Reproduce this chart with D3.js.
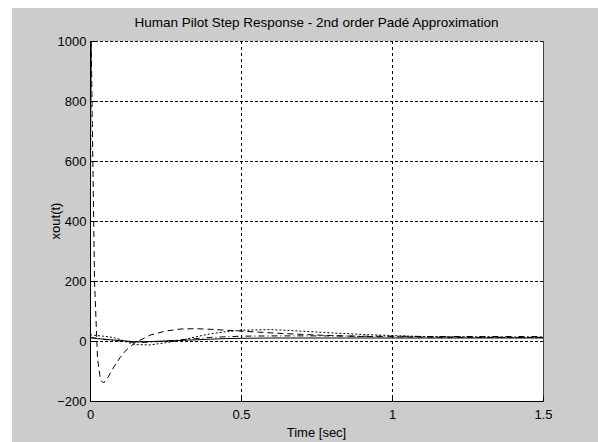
<!DOCTYPE html>
<html><head><meta charset="utf-8">
<script src="https://cdn.jsdelivr.net/npm/d3@7"></script>
<style>html,body{margin:0;padding:0;background:#fff;}svg{display:block;}</style>
</head><body>
<script>
const title = "Human Pilot Step Response - 2nd order Padé Approximation";
const xLabel = "Time [sec]";
const yLabel = "xout(t)";
const xTicks = [0, 0.5, 1, 1.5];
const xTickLabels = ["0", "0.5", "1", "1.5"];
const yTicks = [-200, 0, 200, 400, 600, 800, 1000];
const time =      [0, 0.002, 0.004, 0.008, 0.015, 0.025, 0.035, 0.045, 0.06, 0.08, 0.1, 0.12, 0.15, 0.2, 0.25, 0.3, 0.35, 0.4, 0.45, 0.5, 0.6, 0.7, 0.8, 0.9, 1.0, 1.1, 1.2, 1.3, 1.4, 1.5];
const dashedVals = [0, 600, 1000, 700, 200, -60, -130, -140, -120, -85, -55, -30, -5, 20, 33, 40, 41, 39, 36, 33, 27, 22, 18, 15, 14, 13, 12, 12, 12, 12];
const dottedVals = [20, 20, 20, 20, 19, 18, 17, 16, 14, 11, 5, -3, -12, -13, -6, 2, 14, 24, 31, 36, 38, 33, 27, 22, 18, 15, 14, 13, 12, 12];
const dashDotVals = [12, 12, 12, 11, 10, 9, 8, 6, 4, 2, 0, -2, -5, -4, 0, 4, 8, 12, 14, 16, 17, 17, 17, 16, 16, 15, 15, 15, 15, 15];
const solidVals =  [10, 10, 10, 10, 9, 8, 7, 6, 5, 3, 2, 0, -3, -2, 0, 2, 4, 6, 8, 9, 10, 10, 10, 10, 10, 10, 10, 10, 10, 10];
const seriesNames = ["solid", "dashed", "dotted", "dashdot"];
const seriesValues = [solidVals, dashedVals, dottedVals, dashDotVals];
const seriesDash = [null, "6,4", "2,2", "6,3,1,3"];

const W = 598, H = 442;
const svg = d3.select("body").append("svg").attr("width", W).attr("height", H);
svg.append("rect").attr("x", 12).attr("y", 8).attr("width", W - 12).attr("height", H - 8).attr("fill", "#cccccc");

const L = 90, R = 543, T = 41, B = 401;
const x = d3.scaleLinear().domain([0, 1.5]).range([L, R]);
const y = d3.scaleLinear().domain([-200, 1000]).range([B, T]);

svg.append("rect").attr("x", L).attr("y", T).attr("width", R - L).attr("height", B - T).attr("fill", "#fff");

const font = "'Liberation Sans', Arial, Helvetica, sans-serif";
// grid
const g = svg.append("g");
g.selectAll(".gx").data(xTicks.filter(d => d > 0 && d < 1.5)).enter().append("line")
  .attr("x1", d => x(d) + 0.5).attr("x2", d => x(d) + 0.5).attr("y1", T).attr("y2", B)
  .attr("stroke", "#000").attr("stroke-width", 1).attr("stroke-dasharray", "3,3");
g.selectAll(".gy").data(yTicks.filter(d => d > -200)).enter().append("line")
  .attr("x1", L).attr("x2", R).attr("y1", d => y(d) + 0.5).attr("y2", d => y(d) + 0.5)
  .attr("stroke", "#000").attr("stroke-width", 1).attr("stroke-dasharray", "3,2");

// clip
svg.append("clipPath").attr("id", "clip").append("rect").attr("x", L).attr("y", T - 2).attr("width", R - L).attr("height", B - T + 2);

const line = d3.line().x((d, i) => x(time[i])).y(d => y(d));
svg.append("g").attr("clip-path", "url(#clip)").selectAll("path").data(seriesValues).enter().append("path")
  .attr("d", d => line(d)).attr("fill", "none").attr("stroke", "#000").attr("stroke-width", 1)
  .attr("stroke-dasharray", (d, i) => seriesDash[i]);

// frame
svg.append("line").attr("x1", L + 0.5).attr("x2", L + 0.5).attr("y1", T).attr("y2", B + 0.5).attr("stroke", "#000");
svg.append("line").attr("x1", L).attr("x2", R + 0.5).attr("y1", B + 0.5).attr("y2", B + 0.5).attr("stroke", "#000");
svg.append("line").attr("x1", R + 0.5).attr("x2", R + 0.5).attr("y1", T).attr("y2", B + 0.5).attr("stroke", "#444");

// axes ticks
const xAxis = d3.axisBottom(x).tickValues(xTicks).tickFormat((d, i) => xTickLabels[i]).tickSize(-5).tickPadding(8);
const xa = svg.append("g").attr("transform", `translate(0,${B + 0.5})`).call(xAxis);
xa.select(".domain").remove();
xa.selectAll("text").attr("font-family", font).attr("font-size", 13).attr("fill", "#000");
xa.selectAll("line").attr("stroke", "#000");

const yAxis = d3.axisLeft(y).tickValues(yTicks).tickFormat(d3.format("d")).tickSize(-5).tickPadding(4);
const ya = svg.append("g").attr("transform", `translate(${L + 0.5},0)`).call(yAxis);
ya.select(".domain").remove();
ya.selectAll("text").attr("font-family", font).attr("font-size", 13).attr("fill", "#000");
ya.selectAll("line").attr("stroke", "#000");

svg.append("text").attr("x", (L + R) / 2).attr("y", 27).attr("text-anchor", "middle")
  .attr("font-family", font).attr("font-size", 13.5).text(title);
svg.append("text").attr("x", (L + R) / 2).attr("y", 437).attr("text-anchor", "middle")
  .attr("font-family", font).attr("font-size", 13).text(xLabel);
svg.append("text").attr("transform", `translate(60,${(T + B) / 2}) rotate(-90)`).attr("text-anchor", "middle")
  .attr("font-family", font).attr("font-size", 13).text(yLabel);
</script>
</body></html>
